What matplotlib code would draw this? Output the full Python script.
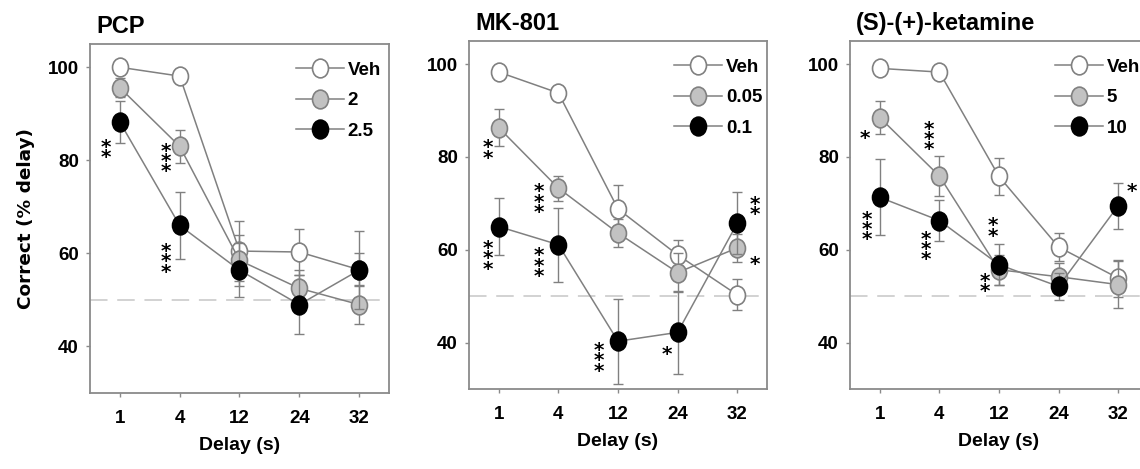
import numpy as np
import matplotlib
matplotlib.use('Agg')
import matplotlib.pyplot as plt
from matplotlib.path import Path
from matplotlib.transforms import Affine2D, offset_copy

# ---------------- data ----------------
delays = ['1', '4', '12', '24', '32']
titles = ['PCP', 'MK-801', '(S)-(+)-ketamine']
dose_labels = [['Veh', '2', '2.5'], ['Veh', '0.05', '0.1'], ['Veh', '5', '10']]

pcp_veh = [100.0, 98.1, 60.5, 60.3, 56.5]
pcp_veh_err = [0.5, 0.5, 6.4, 4.9, 3.5]
pcp_low = [95.6, 83.0, 58.5, 52.5, 49.0]
pcp_low_err = [2.0, 3.5, 5.5, 4.0, 4.2]
pcp_high = [88.2, 66.0, 56.4, 49.0, 56.4]
pcp_high_err = [4.5, 7.2, 5.8, 6.3, 8.4]

mk_veh = [98.3, 93.8, 68.8, 58.9, 50.3]
mk_veh_err = [0.5, 0.5, 5.2, 3.3, 3.3]
mk_low = [86.3, 73.3, 63.6, 55.1, 60.4]
mk_low_err = [4.0, 2.7, 3.0, 4.2, 3.0]
mk_high = [65.0, 61.1, 40.3, 42.2, 65.7]
mk_high_err = [6.1, 8.0, 9.2, 8.9, 6.7]

ket_veh = [99.1, 98.3, 75.8, 60.6, 53.9]
ket_veh_err = [0.5, 0.5, 3.9, 3.1, 4.0]
ket_low = [88.5, 75.9, 55.7, 54.2, 52.5]
ket_low_err = [3.6, 4.3, 3.2, 3.0, 5.0]
ket_high = [71.3, 66.3, 56.8, 52.1, 69.5]
ket_high_err = [8.2, 4.4, 4.4, 3.0, 5.0]

chance_level = 50

pcp_star_x = [-0.23, 0.76, 0.76]
pcp_star_y = [82.3, 80.4, 58.8]
pcp_star_n = [2, 3, 3]

mk_star_x = [-0.19, 0.68, -0.18, 0.68, 1.68, 2.82, 4.30, 4.30]
mk_star_y = [81.5, 70.9, 58.7, 57.1, 36.7, 38.1, 69.3, 57.5]
mk_star_n = [2, 3, 3, 3, 3, 1, 2, 1]

ket_star_x = [-0.25, 0.83, -0.21, 0.78, 1.89, 1.76, 4.23]
ket_star_y = [84.7, 84.4, 65.0, 60.7, 64.7, 52.8, 73.3]
ket_star_n = [1, 3, 3, 3, 2, 2, 1]

# ---------------- style ----------------
plt.rcParams['font.family'] = ['Liberation Sans', 'DejaVu Sans']
plt.rcParams['font.weight'] = 'bold'

line_col = '#808080'
spine_col = '#8a8a8a'
fills = ['white', '#c2c2c2', 'black']
edges = ['#808080', '#808080', 'black']

ell = Affine2D().scale(0.85, 1.0).transform_path(Path.unit_circle())

fig = plt.figure(figsize=(11.4, 4.69), dpi=100)
W, H = 1140, 469
boxes = [(90, 44, 389, 393), (469, 41, 767, 389), (850, 41, 1148, 389)]

panels = [
    ([pcp_veh, pcp_low, pcp_high], [pcp_veh_err, pcp_low_err, pcp_high_err],
     pcp_star_x, pcp_star_y, pcp_star_n),
    ([mk_veh, mk_low, mk_high], [mk_veh_err, mk_low_err, mk_high_err],
     mk_star_x, mk_star_y, mk_star_n),
    ([ket_veh, ket_low, ket_high], [ket_veh_err, ket_low_err, ket_high_err],
     ket_star_x, ket_star_y, ket_star_n),
]

xpos = np.arange(len(delays))
for i, (series, errs, sx, sy, sn) in enumerate(panels):
    l, t, r, b = boxes[i]
    ax = fig.add_axes([l / W, 1 - b / H, (r - l) / W, (b - t) / H])
    ax.axhline(chance_level, color='#d2d2d2', lw=1.4, dashes=(9, 5), zorder=1)
    handles = []
    for k in range(3):
        ax.errorbar(xpos, series[k], yerr=errs[k], fmt='none', ecolor=line_col,
                    elinewidth=1.0, capsize=3.5, capthick=1.0, zorder=2 + k)
        h, = ax.plot(xpos, series[k], color=line_col, lw=1.1, marker=ell,
                     markersize=13.5, markerfacecolor=fills[k],
                     markeredgecolor=edges[k], markeredgewidth=1.2,
                     zorder=2.5 + k, label=dose_labels[i][k])
        handles.append(h)
    star_tr = offset_copy(ax.transData, fig=fig, x=0, y=-3, units='dots')
    for x, y, n in zip(sx, sy, sn):
        ax.text(x, y, '\n'.join(['*'] * n), ha='center', va='center',
                multialignment='center', linespacing=0.42, fontsize=14.5,
                family='DejaVu Sans', fontweight='bold', zorder=10,
                transform=star_tr)
    ax.set_xlim(-0.5, 4.5)
    ax.set_ylim(30, 105)
    ax.set_xticks(xpos)
    ax.set_xticklabels(delays)
    ax.set_yticks([40, 60, 80, 100])
    for sp in ax.spines.values():
        sp.set_color(spine_col)
        sp.set_linewidth(1.3)
    ax.tick_params(axis='both', colors=spine_col, length=3, width=1,
                   labelcolor='black', labelsize=13.5)
    ax.tick_params(axis='x', pad=9)
    ax.tick_params(axis='y', pad=5)
    for lab in ax.get_xticklabels() + ax.get_yticklabels():
        lab.set_fontweight('bold')
    ax.set_xlabel('Delay (s)', fontsize=14, fontweight='bold')
    ax.xaxis.set_label_coords(0.5, -0.125)
    ax.set_title(titles[i], loc='left', fontsize=17, fontweight='bold', pad=8,
                 x=0.02)
    if i == 0:
        ax.set_ylabel('Correct (% delay)', fontsize=13.3, fontweight='bold',
                      family='DejaVu Sans')
        ax.yaxis.set_label_coords(-0.185, 0.5)
    ax.legend(handles=handles, loc='upper left', bbox_to_anchor=(0.689, 0.95),
              frameon=False, handlelength=2.55, handletextpad=0.2,
              labelspacing=0.72, borderpad=0, borderaxespad=0,
              prop={'size': 13.5, 'weight': 'bold'})

fig.savefig('out.png', dpi=100)
